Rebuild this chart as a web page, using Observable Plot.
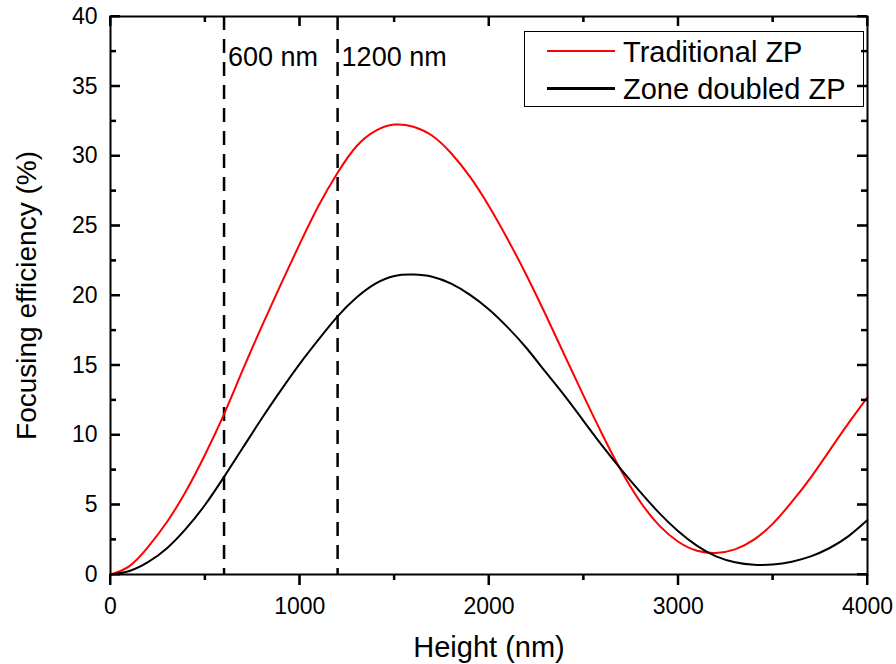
<!DOCTYPE html>
<html>
<head>
<meta charset="utf-8">
<script src="https://cdn.jsdelivr.net/npm/d3@7"></script>
<script src="https://cdn.jsdelivr.net/npm/@observablehq/plot@0.6"></script>
<style>
  html, body { margin: 0; padding: 0; background: #fff; }
  #wrap { position: relative; width: 896px; height: 664px; font-family: "Liberation Sans", Arial, sans-serif; }
  #legend { position: absolute; left: 524px; top: 31px; }
</style>
</head>
<body>
<div id="wrap"></div>
<script>
// ---- data ----
const heights = [0,100,200,300,400,500,600,700,800,900,1000,1100,1200,1300,1400,1500,1600,1700,1800,1900,2000,
  2100,2200,2300,2400,2500,2600,2700,2800,2900,3000,3100,3200,3300,3400,3500,3600,3700,3800,3900,4000];
const traditionalZP = [0,0.6,2.0,3.8,6.0,8.6,11.5,14.7,17.8,20.8,23.7,26.45,28.8,30.7,31.8,32.25,32.1,31.45,30.2,28.5,26.4,
  24.0,21.4,18.6,15.7,12.8,10.0,7.4,5.2,3.5,2.35,1.7,1.55,1.8,2.5,3.65,5.2,6.95,8.9,10.85,12.7];
const zoneDoubledZP = [0,0.25,0.9,1.9,3.3,5.0,7.0,9.1,11.2,13.2,15.1,16.85,18.5,19.85,20.85,21.4,21.5,21.35,20.85,20.05,19.0,
  17.7,16.2,14.5,12.8,11.0,9.2,7.5,5.9,4.4,3.1,2.05,1.3,0.88,0.7,0.72,0.92,1.3,1.9,2.75,3.9];
const seriesNames = ["Traditional ZP", "Zone doubled ZP"];
const seriesColors = ["#ff0000", "#000000"];
const markerHeights = [600, 1200];
const markerLabels = ["600 nm", "1200 nm"];
const xMajorTicks = [0, 1000, 2000, 3000, 4000];
const xMinorTicks = [500, 1500, 2500, 3500];
const yMajorTicks = [0, 5, 10, 15, 20, 25, 30, 35, 40];
const yMinorTicks = [2.5, 7.5, 12.5, 17.5, 22.5, 27.5, 32.5, 37.5];
const xLabel = "Height (nm)";
const yLabel = "Focusing efficiency (%)";

// ---- build tables ----
const rows = [];
heights.forEach((h, i) => rows.push({height: h, eff: traditionalZP[i], series: seriesNames[0]}));
heights.forEach((h, i) => rows.push({height: h, eff: zoneDoubledZP[i], series: seriesNames[1]}));
const markers = markerHeights.map((h, i) => ({height: h, label: markerLabels[i]}));

const font = "'Liberation Sans', Arial, sans-serif";
const W = 896, H = 664, mL = 110, mR = 29, mT = 16, mB = 90;
const plotW = W - mL - mR, plotH = H - mT - mB;
const majorLen = 10, minorLen = 6, outMajor = 11, outMinor = 6;
const fmt = d => String(d);
const tickStyle = {stroke: "#000", strokeWidth: 2};

const chart = Plot.plot({
  width: W, height: H, marginLeft: mL, marginRight: mR, marginTop: mT, marginBottom: mB,
  style: {fontFamily: font, fontSize: "23px", color: "#000", background: "#fff", overflow: "visible"},
  x: {domain: [0, 4000], label: null},
  y: {domain: [0, 40], label: null},
  marks: [
    // data
    Plot.ruleX(markers, {x: "height", stroke: "#000", strokeWidth: 2.5, strokeDasharray: "14,9"}),
    Plot.text(markers, {x: "height", text: "label", frameAnchor: "top", lineAnchor: "middle", dy: 41, dx: 4, textAnchor: "start", fontSize: 27, fill: "#000"}),
    Plot.line(rows, {x: "height", y: "eff", z: "series", stroke: d => seriesColors[seriesNames.indexOf(d.series)], strokeWidth: 2, curve: "natural"}),
    Plot.frame({stroke: "#000", strokeWidth: 2}),
    // tick labels and axis titles
    Plot.axisX(xMajorTicks, {anchor: "bottom", tickSize: 0, tickPadding: outMajor + 12, fontSize: 23, tickFormat: fmt, label: null}),
    Plot.axisY(yMajorTicks, {anchor: "left", tickSize: 0, tickPadding: 13, fontSize: 23, tickFormat: fmt, label: null}),
    Plot.text([xLabel], {frameAnchor: "bottom", lineAnchor: "middle", textAnchor: "middle", dy: 73, fontSize: 29, fill: "#000"}),
    Plot.text([yLabel], {frameAnchor: "left", lineAnchor: "middle", textAnchor: "middle", dx: -83, rotate: -90, fontSize: 28, fill: "#000"}),
    // ticks: bottom outward, top/left/right inward
    Plot.tickX(xMajorTicks, {x: d => d, insetTop: plotH, insetBottom: -outMajor, ...tickStyle}),
    Plot.tickX(xMinorTicks, {x: d => d, insetTop: plotH, insetBottom: -outMinor, ...tickStyle}),
    Plot.tickX(xMajorTicks, {x: d => d, insetBottom: plotH - majorLen, ...tickStyle}),
    Plot.tickX(xMinorTicks, {x: d => d, insetBottom: plotH - minorLen, ...tickStyle}),
    Plot.tickY(yMajorTicks, {y: d => d, insetRight: plotW - majorLen, ...tickStyle}),
    Plot.tickY(yMinorTicks, {y: d => d, insetRight: plotW - minorLen, ...tickStyle}),
    Plot.tickY(yMajorTicks, {y: d => d, insetLeft: plotW - majorLen, ...tickStyle}),
    Plot.tickY(yMinorTicks, {y: d => d, insetLeft: plotW - minorLen, ...tickStyle})
  ]
});

const wrap = document.getElementById("wrap");
wrap.appendChild(chart);

// reinforce the frame ticks on top, positioned with the chart's own scales
const sx = chart.scale("x"), sy = chart.scale("y");
const tg = d3.select(chart).append("g").attr("stroke", "#000").attr("stroke-width", 2);
const x0 = mL, x1 = W - mR, y0 = H - mB, y1 = mT;
xMajorTicks.forEach(v => {
  const px = sx.apply(v);
  tg.append("line").attr("x1", px).attr("x2", px).attr("y1", y0).attr("y2", y0 + outMajor);
  tg.append("line").attr("x1", px).attr("x2", px).attr("y1", y1).attr("y2", y1 + majorLen);
});
xMinorTicks.forEach(v => {
  const px = sx.apply(v);
  tg.append("line").attr("x1", px).attr("x2", px).attr("y1", y0).attr("y2", y0 + outMinor);
  tg.append("line").attr("x1", px).attr("x2", px).attr("y1", y1).attr("y2", y1 + minorLen);
});
yMajorTicks.forEach(v => {
  const py = sy.apply(v);
  tg.append("line").attr("x1", x0).attr("x2", x0 + majorLen).attr("y1", py).attr("y2", py);
  tg.append("line").attr("x1", x1 - majorLen).attr("x2", x1).attr("y1", py).attr("y2", py);
});
yMinorTicks.forEach(v => {
  const py = sy.apply(v);
  tg.append("line").attr("x1", x0).attr("x2", x0 + minorLen).attr("y1", py).attr("y2", py);
  tg.append("line").attr("x1", x1 - minorLen).attr("x2", x1).attr("y1", py).attr("y2", py);
});

// ---- legend (overlay inside the frame, top right) ----
const ns = "http://www.w3.org/2000/svg";
const leg = document.createElementNS(ns, "svg");
leg.setAttribute("id", "legend");
leg.setAttribute("width", 340);
leg.setAttribute("height", 76);
leg.style.fontFamily = font;
const box = document.createElementNS(ns, "rect");
box.setAttribute("x", 0.5); box.setAttribute("y", 0.5);
box.setAttribute("width", 339); box.setAttribute("height", 75);
box.setAttribute("fill", "none"); box.setAttribute("stroke", "#000"); box.setAttribute("stroke-width", 1);
leg.appendChild(box);
seriesNames.forEach((name, i) => {
  const cy = 20 + i * 37.5;
  const ln = document.createElementNS(ns, "line");
  ln.setAttribute("x1", 23); ln.setAttribute("x2", 91);
  ln.setAttribute("y1", cy); ln.setAttribute("y2", cy);
  ln.setAttribute("stroke", seriesColors[i]);
  ln.setAttribute("stroke-width", i === 0 ? 2 : 3);
  leg.appendChild(ln);
  const tx = document.createElementNS(ns, "text");
  tx.setAttribute("x", 99); tx.setAttribute("y", cy + 10.5);
  tx.setAttribute("font-size", 29);
  tx.setAttribute("fill", "#000");
  tx.textContent = name;
  leg.appendChild(tx);
});
wrap.appendChild(leg);
</script>
</body>
</html>
